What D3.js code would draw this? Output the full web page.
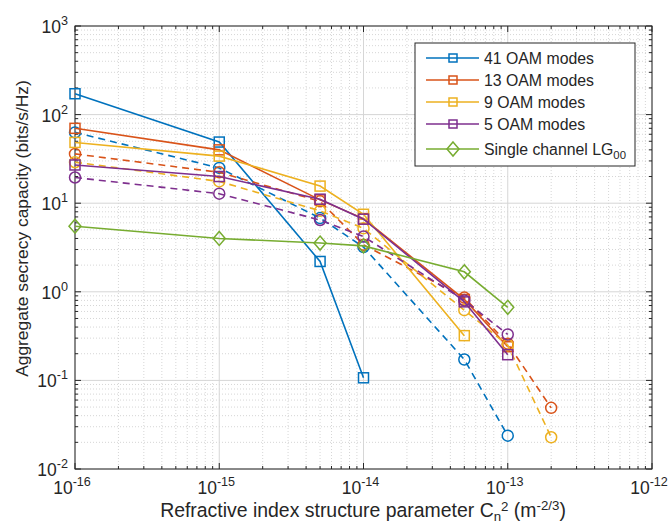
<!DOCTYPE html>
<html><head><meta charset="utf-8">
<script src="https://cdn.jsdelivr.net/npm/d3@7"></script>
<style>body{margin:0;background:#fff} text{font-family:"Liberation Sans",Arial,Helvetica,sans-serif;fill:#262626}</style>
</head><body><svg id="c" width="670" height="527"></svg>
<script>
// ---- data ----
const xTicks = [1e-16, 1e-15, 1e-14, 1e-13, 1e-12];
const xTickExp = ["-16", "-15", "-14", "-13", "-12"];
const yTicks = [1e-2, 1e-1, 1e0, 1e1, 1e2, 1e3];
const yTickExp = ["-2", "-1", "0", "1", "2", "3"];
const cn2 = [1e-16, 1e-15, 5e-15, 1e-14, 5e-14, 1e-13, 2e-13];
const oam41Solid  = [172, 49, 2.2, 0.107];
const oam41Dashed = [63, 25, 6.8, 3.2, 0.172, 0.0238];
const oam13Solid  = [70, 40, 10.9, 6.7, 0.82, 0.24];
const oam13Dashed = [36, 22.3, 10.5, 3.4, 0.86, 0.26, 0.049];
const oam9Solid   = [48.5, 34, 15.6, 7.5, 0.32];
const oam9Dashed  = [29, 17.6, 8.2, 5.2, 0.62, 0.25, 0.0228];
const oam5Solid   = [27, 20, 11.1, 6.6, 0.77, 0.195];
const oam5Dashed  = [19.5, 12.8, 6.46, 4.2, 0.8, 0.33];
const singleLG00  = [5.5, 4.0, 3.55, 3.3, 1.68, 0.668];
const legendLabels = ["41 OAM modes", "13 OAM modes", "9 OAM modes", "5 OAM modes", "Single channel LG"];

// ---- layout ----
const L = 75, R = 652, T = 26, B = 469;
const svg = d3.select("#c");
const x = d3.scaleLog().domain([1e-16, 1e-12]).range([L, R]);
const y = d3.scaleLog().domain([1e-2, 1e3]).range([B, T]);
const C = {b:"#0072BD", o:"#D95319", y:"#EDB120", p:"#7E2F8E", g:"#77AC30"};

const series = [
  {v: oam41Solid, c: C.b, dash: null, m: "square"},
  {v: oam41Dashed, c: C.b, dash: "7,5", m: "circle"},
  {v: oam13Solid, c: C.o, dash: null, m: "square"},
  {v: oam13Dashed, c: C.o, dash: "7,5", m: "circle"},
  {v: oam9Solid, c: C.y, dash: null, m: "square"},
  {v: oam9Dashed, c: C.y, dash: "7,5", m: "circle"},
  {v: oam5Solid, c: C.p, dash: null, m: "square"},
  {v: oam5Dashed, c: C.p, dash: "7,5", m: "circle"},
  {v: singleLG00, c: C.g, dash: null, m: "diamond"}
];

// fit a text element's font size so that its width matches a target
function fit(t, target) {
  const w = t.node().getComputedTextLength();
  if (w > 0) {
    const k = target / w;
    t.attr("font-size", parseFloat(t.attr("font-size")) * k);
    t.selectAll("tspan").each(function() {
      const s = d3.select(this);
      if (s.attr("font-size")) s.attr("font-size", parseFloat(s.attr("font-size")) * k);
      if (s.attr("dy")) s.attr("dy", parseFloat(s.attr("dy")) * k);
      if (s.attr("dx")) s.attr("dx", parseFloat(s.attr("dx")) * k);
    });
  }
}

// grid
const minorX = [], minorY = [];
for (let e = -16; e < -12; e++) for (let k = 2; k <= 9; k++) minorX.push(k * Math.pow(10, e));
for (let e = -2; e < 3; e++) for (let k = 2; k <= 9; k++) minorY.push(k * Math.pow(10, e));
const g = svg.append("g");
g.selectAll(".mx").data(minorX).enter().append("line")
  .attr("x1", d => x(d)).attr("x2", d => x(d)).attr("y1", T).attr("y2", B)
  .attr("stroke", "#c4c4c4").attr("stroke-width", 0.7).attr("stroke-dasharray", "1,2");
g.selectAll(".my").data(minorY).enter().append("line")
  .attr("y1", d => y(d)).attr("y2", d => y(d)).attr("x1", L).attr("x2", R)
  .attr("stroke", "#c4c4c4").attr("stroke-width", 0.7).attr("stroke-dasharray", "1,2");
g.selectAll(".Mx").data(xTicks).enter().append("line")
  .attr("x1", d => x(d)).attr("x2", d => x(d)).attr("y1", T).attr("y2", B)
  .attr("stroke", "#d6d6d6").attr("stroke-width", 1);
g.selectAll(".My").data(yTicks).enter().append("line")
  .attr("y1", d => y(d)).attr("y2", d => y(d)).attr("x1", L).attr("x2", R)
  .attr("stroke", "#d6d6d6").attr("stroke-width", 1);

// axes box + inward ticks
const axc = "#262626";
const ax = svg.append("g");
ax.append("rect").attr("x", L).attr("y", T).attr("width", R - L).attr("height", B - T)
  .attr("fill", "none").attr("stroke", axc).attr("stroke-width", 1);
function tx(v, len) {
  ax.append("line").attr("x1", x(v)).attr("x2", x(v)).attr("y1", B).attr("y2", B - len).attr("stroke", axc);
  ax.append("line").attr("x1", x(v)).attr("x2", x(v)).attr("y1", T).attr("y2", T + len).attr("stroke", axc);
}
function ty(v, len) {
  ax.append("line").attr("y1", y(v)).attr("y2", y(v)).attr("x1", L).attr("x2", L + len).attr("stroke", axc);
  ax.append("line").attr("y1", y(v)).attr("y2", y(v)).attr("x1", R).attr("x2", R - len).attr("stroke", axc);
}
xTicks.forEach(v => tx(v, 6)); minorX.forEach(v => tx(v, 3));
yTicks.forEach(v => ty(v, 6)); minorY.forEach(v => ty(v, 3));

// tick labels
const fs = 17.5;
xTicks.forEach((v, i) => {
  const t = ax.append("text").attr("x", x(v) - 3).attr("y", 494).attr("text-anchor", "middle").attr("font-size", fs);
  t.append("tspan").text("10");
  t.append("tspan").attr("font-size", fs * 0.72).attr("dy", -8).text(xTickExp[i]);
});
yTicks.forEach((v, i) => {
  const t = ax.append("text").attr("x", 68).attr("y", y(v) + 7).attr("text-anchor", "end").attr("font-size", fs);
  t.append("tspan").text("10");
  t.append("tspan").attr("font-size", fs * 0.72).attr("dy", -8).text(yTickExp[i]);
});

// axis labels
const xl = svg.append("text").attr("x", 363).attr("y", 517).attr("text-anchor", "middle").attr("font-size", 19);
xl.append("tspan").text("Refractive index structure parameter C");
xl.append("tspan").attr("font-size", 13).attr("dy", 4).text("n");
xl.append("tspan").attr("font-size", 13).attr("dx", 0).attr("dy", -10).text("2");
xl.append("tspan").attr("dy", 6).text(" (m");
xl.append("tspan").attr("font-size", 13).attr("dy", -7).text("-2/3");
xl.append("tspan").attr("dy", 7).text(")");
fit(xl, 406);
const yl = svg.append("text").attr("transform", "translate(28,228.5) rotate(-90)").attr("text-anchor", "middle")
  .attr("font-size", 17.5).text("Aggregate secrecy capacity (bits/s/Hz)");
fit(yl, 297);

// marks
const line = d3.line().x(d => x(d[0])).y(d => y(d[1]));
function marker(sel, type, cx, cy, col) {
  if (type === "square") sel.append("rect").attr("x", cx - 5).attr("y", cy - 5).attr("width", 10).attr("height", 10)
    .attr("fill", "none").attr("stroke", col).attr("stroke-width", 1.5);
  else if (type === "circle") sel.append("circle").attr("cx", cx).attr("cy", cy).attr("r", 5.5)
    .attr("fill", "none").attr("stroke", col).attr("stroke-width", 1.5);
  else sel.append("path").attr("d", `M${cx},${cy - 7}L${cx + 6},${cy}L${cx},${cy + 7}L${cx - 6},${cy}Z`)
    .attr("fill", "none").attr("stroke", col).attr("stroke-width", 1.5);
}
const marks = svg.append("g");
series.forEach(s => {
  const pts = s.v.map((v, i) => [cn2[i], v]);
  const grp = marks.append("g");
  grp.append("path").attr("d", line(pts)).attr("fill", "none").attr("stroke", s.c)
    .attr("stroke-width", 1.6).attr("stroke-dasharray", s.dash);
  pts.forEach(p => marker(grp, s.m, x(p[0]), y(p[1]), s.c));
});

// legend
const lg = svg.append("g");
lg.append("rect").attr("x", 415).attr("y", 43).attr("width", 220).attr("height", 123)
  .attr("fill", "#fff").attr("stroke", axc).attr("stroke-width", 1);
const legY = [58, 80, 102, 124, 149];
const legC = [C.b, C.o, C.y, C.p, C.g];
const legM = ["square", "square", "square", "square", "diamond"];
const legTexts = [];
legendLabels.forEach((lab, i) => {
  lg.append("line").attr("x1", 426).attr("x2", 479).attr("y1", legY[i]).attr("y2", legY[i])
    .attr("stroke", legC[i]).attr("stroke-width", 1.5);
  if (legM[i] === "square") lg.append("rect").attr("x", 449).attr("y", legY[i] - 4).attr("width", 8).attr("height", 8)
    .attr("fill", "none").attr("stroke", legC[i]).attr("stroke-width", 1.5);
  else lg.append("path").attr("d", `M453,${legY[i] - 7}L459,${legY[i]}L453,${legY[i] + 7}L447,${legY[i]}Z`)
    .attr("fill", "none").attr("stroke", legC[i]).attr("stroke-width", 1.5);
  const t = lg.append("text").attr("x", 484).attr("y", legY[i] + 6).attr("font-size", 16).text(lab);
  if (i === 4) t.append("tspan").attr("font-size", 11.5).attr("dy", 4).text("00");
  legTexts.push(t);
});
// size legend text so "41 OAM modes" spans the width seen in the reference
const w0 = legTexts[0].node().getComputedTextLength();
const lk = w0 > 0 ? 110 / w0 : 1;
legTexts.forEach(t => {
  t.attr("font-size", 16 * lk);
  t.selectAll("tspan").attr("font-size", 11.5 * lk);
});
</script></body></html>
